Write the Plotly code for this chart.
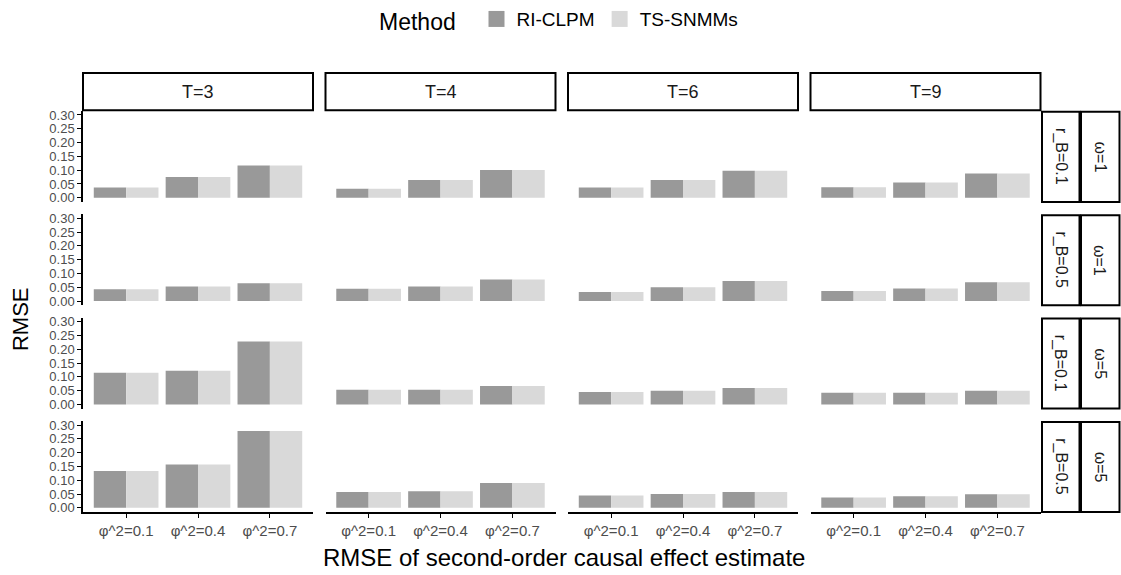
import plotly.graph_objects as go
from plotly.subplots import make_subplots

# ---------------- data ----------------
categories = ["φ^2=0.1", "φ^2=0.4", "φ^2=0.7"]
t_labels = ["T=3", "T=4", "T=6", "T=9"]
rb_labels = ["r_B=0.1", "r_B=0.5", "r_B=0.1", "r_B=0.5"]
omega_labels = ["ω=1", "ω=1", "ω=5", "ω=5"]
methods = ["RI-CLPM", "TS-SNMMs"]

# RMSE per facet row (omega, r_B); each row holds one list per T column
ri_clpm_w1_rb01 = [[0.037, 0.075, 0.117], [0.033, 0.064, 0.101], [0.037, 0.064, 0.098], [0.038, 0.055, 0.088]]
ri_clpm_w1_rb05 = [[0.043, 0.053, 0.065], [0.045, 0.053, 0.078], [0.033, 0.050, 0.073], [0.037, 0.046, 0.068]]
ri_clpm_w5_rb01 = [[0.115, 0.122, 0.228], [0.053, 0.053, 0.067], [0.045, 0.050, 0.060], [0.042, 0.042, 0.050]]
ri_clpm_w5_rb05 = [[0.133, 0.157, 0.278], [0.057, 0.060, 0.090], [0.045, 0.050, 0.057], [0.037, 0.042, 0.049]]

ts_snmms_w1_rb01 = [[0.037, 0.075, 0.117], [0.033, 0.064, 0.101], [0.037, 0.064, 0.098], [0.038, 0.055, 0.088]]
ts_snmms_w1_rb05 = [[0.043, 0.053, 0.065], [0.045, 0.053, 0.078], [0.033, 0.050, 0.073], [0.037, 0.046, 0.068]]
ts_snmms_w5_rb01 = [[0.115, 0.122, 0.228], [0.053, 0.053, 0.067], [0.045, 0.050, 0.060], [0.042, 0.042, 0.050]]
ts_snmms_w5_rb05 = [[0.133, 0.157, 0.278], [0.057, 0.060, 0.090], [0.045, 0.050, 0.057], [0.037, 0.042, 0.049]]

y_ticks = [0.00, 0.05, 0.10, 0.15, 0.20, 0.25, 0.30]

# ---------------- styling / layout ----------------
W, H = 1121, 575
FONT = "Arial, Liberation Sans, sans-serif"
colors = {"RI-CLPM": "#999999", "TS-SNMMs": "#D9D9D9"}
col_left = [83, 325.5, 568, 810.5]
col_w = 230
row_top = [106.5, 211.5, 316.5, 421.5]
row_h = 92.5

ri_rows = [ri_clpm_w1_rb01, ri_clpm_w1_rb05, ri_clpm_w5_rb01, ri_clpm_w5_rb05]
ts_rows = [ts_snmms_w1_rb01, ts_snmms_w1_rb05, ts_snmms_w5_rb01, ts_snmms_w5_rb05]

fig = make_subplots(rows=4, cols=4)

for r in range(4):
    for c in range(4):
        for m, vals in zip(methods, [ri_rows[r][c], ts_rows[r][c]]):
            fig.add_trace(
                go.Bar(
                    x=categories, y=vals, name=m,
                    marker=dict(color=colors[m], line=dict(width=0)),
                    legendgroup=m, showlegend=False,
                ),
                row=r + 1, col=c + 1,
            )

# legend entries (square keys, larger than default bar keys)
for m in methods:
    fig.add_trace(
        go.Scatter(x=[None], y=[None], mode="markers", name=m, legendgroup=m,
                   marker=dict(symbol="square", size=16, color=colors[m], line=dict(width=0)),
                   showlegend=True, hoverinfo="skip"),
        row=1, col=1,
    )


def px_x(v):
    return v / W


def px_y(v):
    return 1 - v / H


for r in range(4):
    for c in range(4):
        xa = "xaxis" if (r == 0 and c == 0) else f"xaxis{r * 4 + c + 1}"
        ya = "yaxis" if (r == 0 and c == 0) else f"yaxis{r * 4 + c + 1}"
        x0 = px_x(col_left[c])
        x1 = px_x(col_left[c] + col_w)
        y1 = px_y(row_top[r])
        y0 = px_y(row_top[r] + row_h)
        bottom = r == 3
        left = c == 0
        fig.layout[xa].update(
            domain=[x0, x1], range=[-0.6, 2.6], type="category",
            showgrid=False, zeroline=False,
            showline=bottom, linecolor="black", linewidth=1.5,
            ticks="outside" if bottom else "", ticklen=4, tickcolor="black", tickwidth=1.2,
            showticklabels=bottom,
            tickfont=dict(family=FONT, size=15, color="#4D4D4D"),
        )
        fig.layout[ya].update(
            domain=[y0, y1], range=[-0.015, 0.315],
            showgrid=False, zeroline=False,
            showline=left, linecolor="black", linewidth=1.5,
            ticks="outside" if left else "", ticklen=4, tickcolor="black", tickwidth=1.2,
            showticklabels=left, tickvals=y_ticks, tickformat=".2f",
            tickfont=dict(family=FONT, size=13, color="#4D4D4D"),
        )

shapes = []
annotations = []
# top strips
for c in range(4):
    shapes.append(dict(type="rect", xref="paper", yref="paper",
                       x0=px_x(col_left[c]), x1=px_x(col_left[c] + col_w),
                       y0=px_y(106), y1=px_y(68),
                       line=dict(color="black", width=2), fillcolor="white", layer="below"))
    annotations.append(dict(xref="paper", yref="paper", x=px_x(col_left[c] + col_w / 2),
                            y=px_y(87), text=t_labels[c], showarrow=False,
                            font=dict(family=FONT, size=18, color="#1A1A1A"),
                            xanchor="center", yanchor="middle"))
# right strips
for r in range(4):
    yt, yb = row_top[r] + 1, row_top[r] + row_h
    for (xa0, xa1), lab in [((1042, 1079.5), rb_labels[r]), ((1081, 1119.5), omega_labels[r])]:
        shapes.append(dict(type="rect", xref="paper", yref="paper",
                           x0=px_x(xa0), x1=px_x(xa1), y0=px_y(yb), y1=px_y(yt),
                           line=dict(color="black", width=2), fillcolor="white", layer="below"))
        annotations.append(dict(xref="paper", yref="paper", x=px_x((xa0 + xa1) / 2),
                                y=px_y((yt + yb) / 2), text=lab, showarrow=False, textangle=90,
                                font=dict(family=FONT, size=16, color="#1A1A1A"),
                                xanchor="center", yanchor="middle"))

# axis titles
annotations.append(dict(xref="paper", yref="paper", x=px_x(564), y=px_y(560),
                        text="RMSE of second-order causal effect estimate", showarrow=False,
                        font=dict(family=FONT, size=24, color="black"),
                        xanchor="center", yanchor="middle"))
annotations.append(dict(xref="paper", yref="paper", x=px_x(20), y=px_y(318),
                        text="RMSE", showarrow=False, textangle=-90,
                        font=dict(family=FONT, size=22, color="black"),
                        xanchor="center", yanchor="middle"))

fig.update_layout(
    width=W, height=H,
    margin=dict(l=0, r=0, t=0, b=0),
    paper_bgcolor="white", plot_bgcolor="white",
    barmode="group", bargap=0.1, bargroupgap=0,
    shapes=shapes, annotations=annotations,
    legend=dict(orientation="h", x=px_x(560), xanchor="center", y=px_y(-6), yanchor="top",
                title=dict(text="Method  ", font=dict(family=FONT, size=23, color="black")),
                font=dict(family=FONT, size=19, color="black"),
                itemwidth=30, traceorder="normal"),
    font=dict(family=FONT),
)

fig.write_html("out.html")
